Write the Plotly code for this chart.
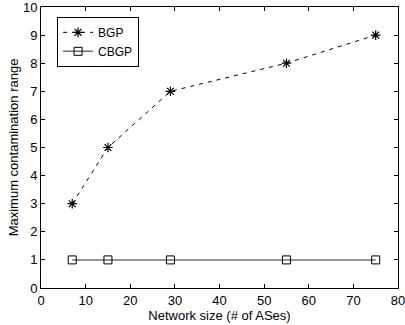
import plotly.graph_objects as go

network_size = [7, 15, 29, 55, 75]
bgp = [3, 5, 7, 8, 9]
cbgp = [1, 1, 1, 1, 1]
x_ticks = [0, 10, 20, 30, 40, 50, 60, 70, 80]
y_ticks = list(range(0, 11))

FONT = "Liberation Sans, Arial, sans-serif"

fig = go.Figure()
fig.add_trace(go.Scatter(
    x=network_size, y=bgp, name="BGP", mode="lines+markers",
    line=dict(color="black", width=1, dash="4px,5px"),
    marker=dict(symbol="asterisk-open", size=8, color="black", line=dict(color="black", width=1.2)),
))
fig.add_trace(go.Scatter(
    x=network_size, y=cbgp, name="CBGP", mode="lines+markers",
    line=dict(color="#707070", width=1.5),
    marker=dict(symbol="square-open", size=8, color="black", line=dict(color="black", width=1)),
))

axis_common = dict(
    showgrid=False, zeroline=False, showline=True, linecolor="black", linewidth=1,
    mirror="ticks", ticks="inside", ticklen=4, tickcolor="black", automargin=False,
    ticklabeloverflow="allow",
    tickfont=dict(family=FONT, size=13, color="black"),
)
fig.update_xaxes(range=[0, 80], tickvals=x_ticks, title=dict(text="Network size (# of ASes)", standoff=1,
                 font=dict(family=FONT, size=13, color="black")), **axis_common)
fig.update_yaxes(range=[0, 10], tickvals=y_ticks, title=dict(text="Maximum contamination range", standoff=1,
                 font=dict(family=FONT, size=13, color="black")), **axis_common)

fig.update_layout(
    width=405, height=325,
    margin=dict(l=41, r=7, t=7, b=37),
    plot_bgcolor="white", paper_bgcolor="white",
    showlegend=True,
    legend=dict(x=0.045, y=0.965, xanchor="left", yanchor="top",
                bordercolor="black", borderwidth=1, bgcolor="white",
                font=dict(family=FONT, size=12, color="black"),
                tracegroupgap=0, itemwidth=30),
)
fig.write_html("out.html", config={"displayModeBar": False},
               post_script="document.body.style.margin='0';document.body.style.padding='0';")
